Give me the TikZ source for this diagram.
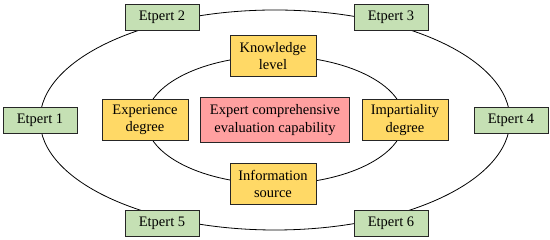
\documentclass[tikz,border=0pt]{standalone}
\usepackage{fontspec}
\setmainfont{Liberation Serif}
\usepackage{tikz}
\usetikzlibrary{calc}

\definecolor{expgreen}{HTML}{C5E0B4}
\definecolor{facyellow}{HTML}{FFD966}
\definecolor{corepink}{HTML}{FFA0A0}

\begin{document}
\begin{tikzpicture}[x=1pt,y=1pt,
    every node/.style={font=\fontsize{14.5}{17.5}\selectfont},
    expert/.style={draw=black!85, line width=0.9pt, fill=expgreen,
        minimum width=74pt, minimum height=26pt, inner sep=2pt},
    factor/.style={draw=black!85, line width=0.9pt, fill=facyellow,
        minimum width=86pt, minimum height=41pt, align=center, inner sep=2pt},
    core/.style={draw=black!85, line width=0.9pt, fill=corepink,
        minimum width=149pt, minimum height=45pt, align=center, inner sep=2pt}
]

\useasboundingbox (0,0) rectangle (550,240);

% Centre
\node[core] (cap) at (275,120) {Expert comprehensive\\evaluation capability};

% Outer and inner rings
\draw[line width=0.8pt] (cap.center) ellipse (235 and 110);
\draw[line width=0.8pt] (cap.center) ellipse (129 and 64);

% Inner factors
\node[factor] (know) at (273,184) {Knowledge\\level};
\node[factor] (info) at (273,56) {Information\\source};
\node[factor] (expe) at (145,120) {Experience\\degree};
\node[factor] (impa) at (405,120) {Impartiality\\degree};

% Experts
\node[expert] (e1) at (40,120) {Etpert 1};
\node[expert] (e2) at (162,223) {Etpert 2};
\node[expert] (e3) at (391,223) {Etpert 3};
\node[expert] (e4) at (511,120) {Etpert 4};
\node[expert] (e5) at (162,17) {Etpert 5};
\node[expert] (e6) at (391,17) {Etpert 6};

\end{tikzpicture}
\end{document}
